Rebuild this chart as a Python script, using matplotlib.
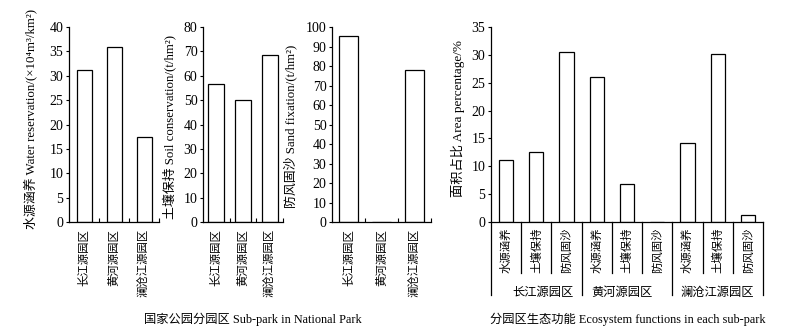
import matplotlib
matplotlib.use('Agg')
import matplotlib.pyplot as plt
import matplotlib.transforms as mtransforms
import numpy as np

plt.rcParams['font.family'] = ['Liberation Serif', 'Noto Sans CJK SC']
plt.rcParams['axes.unicode_minus'] = False

# sub-park names
parks = ['长江源园区', '黄河源园区', '澜沧江源园区']
functions = ['水源涵养', '土壤保持', '防风固沙']

# service values per sub-park
water = [31.2, 35.9, 17.5]
soil = [56.5, 50.2, 68.5]
sand = [95.2, 0.0, 78.0]

# area percentage of each function within each sub-park
area_cj = [11.1, 12.5, 30.5]
area_hh = [26.1, 6.8, 0.0]
area_lc = [14.2, 30.1, 1.3]

ylabels = ['水源涵养 Water reservation/(×10⁴m³/km²)',
           '土壤保持 Soil conservation/(t/hm²)',
           '防风固沙 Sand fixation/(t/hm²)']

fig = plt.figure(figsize=(8, 3.33), dpi=100)

bottom, height = 0.3333, 0.5856
# left, width, values, ymax, step, bar width, ylabel x, ylabel y
panels = [
    (0.08625, 0.1125, water, 40, 5, 0.5, -0.356, 0.53),
    (0.25375, 0.1000, soil, 80, 10, 0.6, -0.325, 0.49),
    (0.41500, 0.12375, sand, 100, 10, 0.55, -0.354, 0.49),
]


def style_axes(ax):
    for side in ['top', 'right']:
        ax.spines[side].set_visible(False)
    for side in ['left', 'bottom']:
        ax.spines[side].set_linewidth(0.9)
    ax.tick_params(axis='y', direction='out', length=2, width=0.8,
                   labelsize=10, pad=2)


for i, (left, width, vals, ymax, step, bw, lx, ly) in enumerate(panels):
    ax = fig.add_axes([left, bottom, width, height])
    x = np.arange(len(parks))
    ax.bar(x, vals, width=bw, color='white', edgecolor='black', linewidth=0.9)
    ax.set_xlim(-0.5, len(parks) - 0.5)
    ax.set_ylim(0, ymax)
    ax.set_yticks(np.arange(0, ymax + 1, step))
    style_axes(ax)
    ax.set_xticks(x)
    ax.set_xticklabels(parks, rotation=90, va='top', ha='center', fontsize=8.2)
    ax.tick_params(axis='x', which='major', length=0, pad=5)
    ax.set_xticks(x + 0.5, minor=True)
    ax.tick_params(axis='x', which='minor', direction='in', length=3, width=0.8)
    ax.set_ylabel(ylabels[i], fontsize=9.3)
    ax.yaxis.set_label_coords(lx, ly)

fig.text(0.316, 0.042, '国家公园分园区 Sub-park in National Park',
         ha='center', va='center', fontsize=8.8)

# area percentage panel
ax4 = fig.add_axes([0.61375, bottom, 0.34, height])
area = area_cj + area_hh + area_lc
x4 = np.arange(len(area))
ax4.bar(x4, area, width=0.47, color='white', edgecolor='black', linewidth=0.9)
ax4.set_xlim(-0.5, len(area) - 0.5)
ax4.set_ylim(0, 35)
ax4.set_yticks(np.arange(0, 36, 5))
style_axes(ax4)
ax4.set_xticks(x4)
ax4.set_xticklabels(functions * len(parks), rotation=90, va='top',
                    ha='center', fontsize=8.2)
ax4.tick_params(axis='x', length=0, pad=4)
ax4.set_ylabel('面积占比 Area percentage/%', fontsize=9.5)
ax4.yaxis.set_label_coords(-0.095, 0.53)

# category separators below the axis
trans = mtransforms.blended_transform_factory(ax4.transData, ax4.transAxes)
for b in np.arange(-0.5, len(area), 1.0):
    long_line = (b + 0.5) % 3 == 0
    y_end = -0.375 if long_line else -0.26
    ax4.plot([b, b], [0, y_end], color='black', lw=0.9,
             transform=trans, clip_on=False)

group_x = [1.22, 3.84, 6.98]
for gx, name in zip(group_x, parks):
    ax4.text(gx, -0.365, name, transform=trans, ha='center', va='center',
             fontsize=8.8)

fig.text(0.785, 0.042, '分园区生态功能 Ecosystem functions in each sub-park',
         ha='center', va='center', fontsize=8.8)

fig.savefig('out.png', dpi=100)
